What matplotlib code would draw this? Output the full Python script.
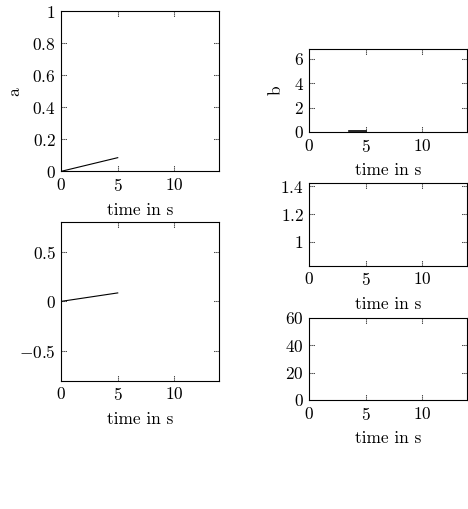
import matplotlib
matplotlib.use('Agg')
import matplotlib.pyplot as plt
import matplotlib.transforms as mtransforms
from matplotlib.ticker import FuncFormatter, FixedLocator
import numpy as np

plt.rcParams['font.family'] = 'cmr10'
plt.rcParams['mathtext.fontset'] = 'cm'
plt.rcParams['axes.formatter.use_mathtext'] = True
plt.rcParams['font.size'] = 12.5

# data
t_a = [0, 5]
a_vals = [0, 0.085]
t_b = [3.5, 5]
b_vals = [0.05, 0.05]
t_c = [0, 5]
c_vals = [0, 0.085]

x_ticks = [0, 5, 10]
a_ticks = [0, 0.2, 0.4, 0.6, 0.8, 1]
b_ticks = [0, 2, 4, 6]
c_ticks = [-0.5, 0, 0.5]
d_ticks = [1, 1.2, 1.4]
e_ticks = [0, 20, 40, 60]

W, H = 468, 509
fig = plt.figure(figsize=(W / 100, H / 100), dpi=100)


def px_axes(left, top, right, bottom):
    return fig.add_axes([left / W, 1 - bottom / H, (right - left) / W, (bottom - top) / H])


def dotted_ticks(ax, ln=6):
    # pgfplots-like dotted tick marks on all four sides, drawn inside
    x0, x1 = ax.get_xlim()
    y0, y1 = ax.get_ylim()
    bb = ax.get_window_extent()
    fx = ln / bb.height
    fy = ln / bb.width
    tx = mtransforms.blended_transform_factory(ax.transData, ax.transAxes)
    ty = mtransforms.blended_transform_factory(ax.transAxes, ax.transData)
    kw = dict(lw=0.75, color='k', clip_on=False, dashes=(1.0, 1.0), solid_capstyle='butt')
    for v in ax.get_xticks():
        if x0 < v < x1:
            ax.plot([v, v], [0, fx], transform=tx, **kw)
            ax.plot([v, v], [1, 1 - fx], transform=tx, **kw)
    for v in ax.get_yticks():
        if y0 < v < y1:
            ax.plot([0, fy], [v, v], transform=ty, **kw)
            ax.plot([1, 1 - fy], [v, v], transform=ty, **kw)


fmt = FuncFormatter(lambda v, p: f'${v:g}$')


def style(ax, xlim, ylim, yticks, ylabel=None):
    ax.set_xlim(xlim)
    ax.set_ylim(ylim)
    ax.xaxis.set_major_locator(FixedLocator(x_ticks))
    ax.yaxis.set_major_locator(FixedLocator(yticks))
    ax.xaxis.set_major_formatter(fmt)
    ax.yaxis.set_major_formatter(fmt)
    ax.tick_params(length=0, pad=4, labelsize=12.5)
    ax.set_xlabel('time in s', labelpad=6)
    if ylabel:
        ax.set_ylabel(ylabel, labelpad=7)
    for s in ax.spines.values():
        s.set_linewidth(0.8)
    dotted_ticks(ax)


ax_a = px_axes(61.3, 11, 219.3, 171.3)
ax_a.plot(t_a, a_vals, color='k', lw=0.8)
style(ax_a, (0, 14), (0, 1), a_ticks, 'a')

ax_c = px_axes(61.3, 222, 219.3, 380.7)
ax_c.plot(t_c, c_vals, color='k', lw=0.8)
style(ax_c, (0, 14), (-0.8, 0.8), c_ticks)

ax_b = px_axes(309.3, 49, 467.3, 132)
ax_b.plot(t_b, b_vals, color='k', lw=1.2)
style(ax_b, (0, 14), (0, 6.8), b_ticks, 'b')

ax_d = px_axes(309.3, 183.3, 467.3, 265.7)
style(ax_d, (0, 14), (0.83, 1.42), d_ticks)

ax_e = px_axes(309.3, 317.7, 467.3, 400)
style(ax_e, (0, 14), (0, 60), e_ticks)

fig.savefig('out.png', dpi=100)
